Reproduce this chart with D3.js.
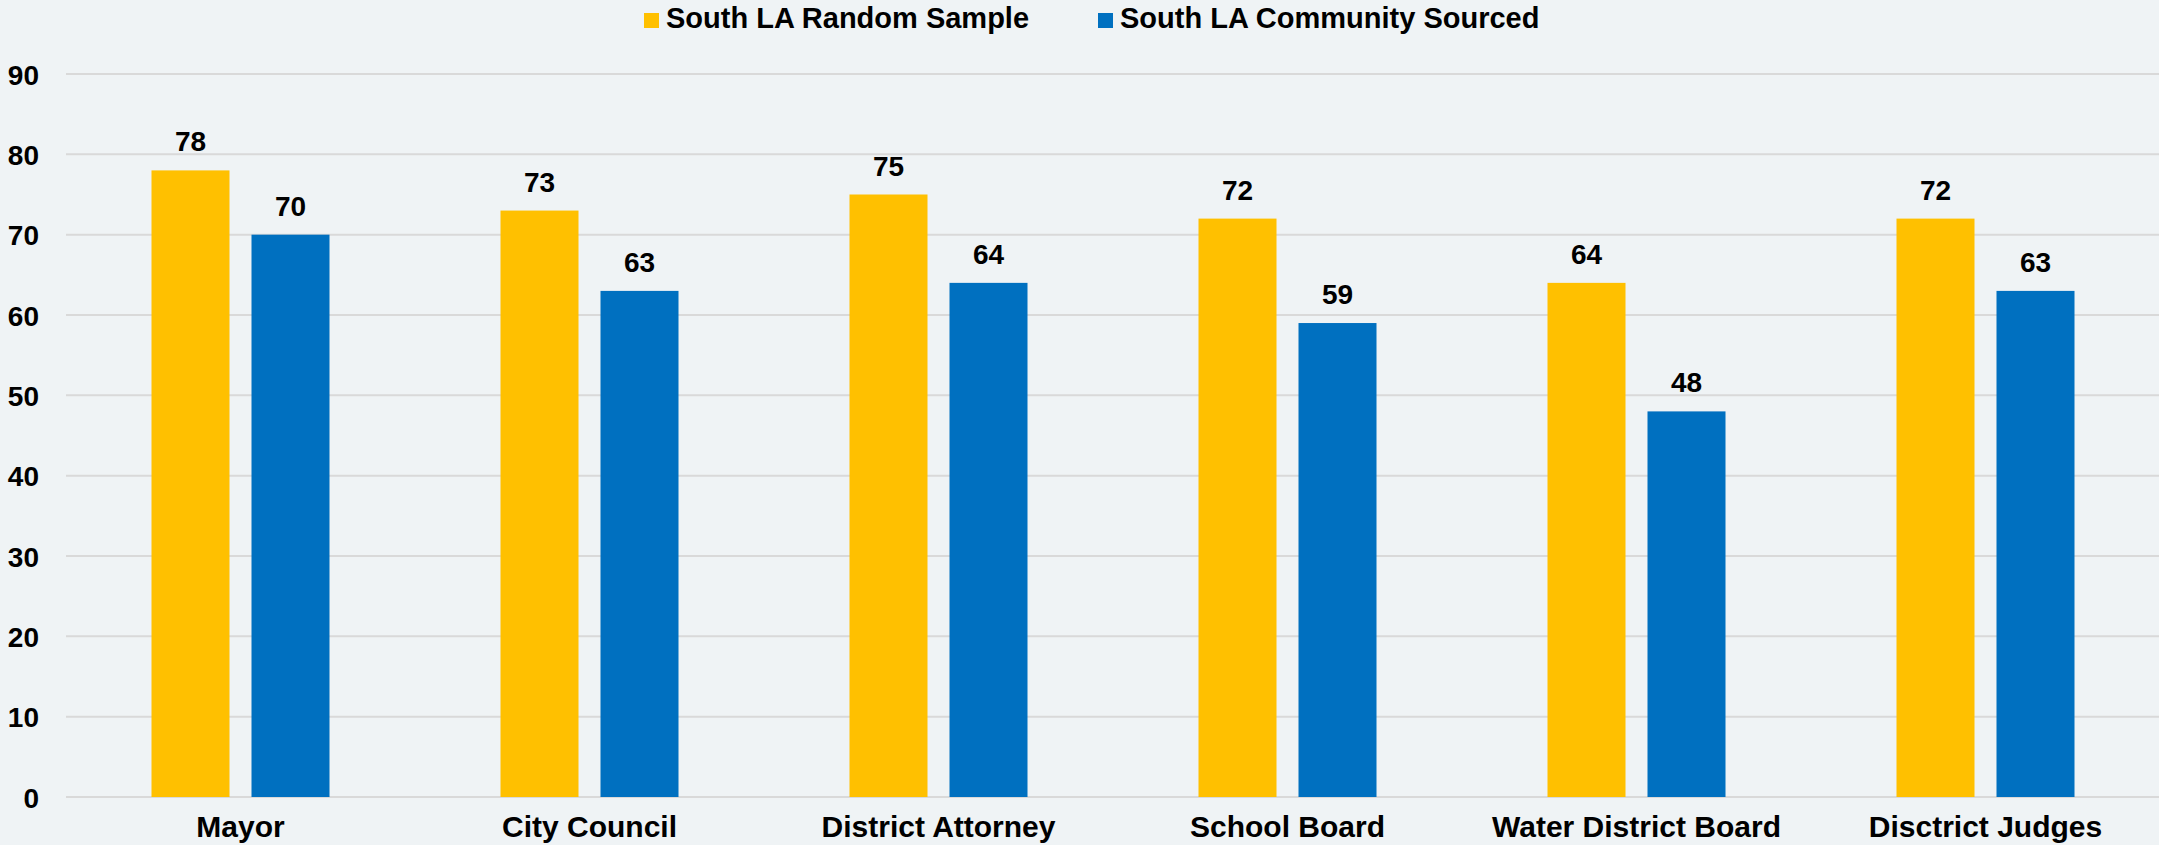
<!DOCTYPE html>
<html>
<head>
<meta charset="utf-8">
<script src="https://cdn.jsdelivr.net/npm/d3@7"></script>
<style>
  html, body { margin: 0; padding: 0; background: #eff3f5; }
  svg { display: block; }
  text { font-family: "Liberation Sans", Arial, sans-serif; font-weight: bold; fill: #000; }
</style>
</head>
<body>
<svg width="2159" height="845"></svg>
<script>
// offices asked about
const categories = ["Mayor", "City Council", "District Attorney", "School Board", "Water District Board", "Disctrict Judges"];
const seriesNames = ["South LA Random Sample", "South LA Community Sourced"];
const randomSample = [78, 73, 75, 72, 64, 72];
const communitySourced = [70, 63, 64, 59, 48, 63];
const yTicks = [0, 10, 20, 30, 40, 50, 60, 70, 80, 90];
const colors = ["#ffc000", "#0070c0"];

const svg = d3.select("svg");
const width = +svg.attr("width");

// plot edges (top is taken by window.top, so prefixed names)
const plotLeft = 66, plotRight = 2160, plotTop = 74, plotBottom = 797;

// build rows for the grouped bars
const rows = categories.map((c, i) => ({ cat: c, values: [randomSample[i], communitySourced[i]] }));

const y = d3.scaleLinear().domain([0, 90]).range([plotBottom, plotTop]);

const x0 = d3.scaleBand().domain(categories).range([plotLeft, plotRight]).padding(0);
const half = 89;
const x1 = d3.scaleBand()
  .domain(seriesNames)
  .range([x0.bandwidth() / 2 - half, x0.bandwidth() / 2 + half])
  .paddingInner(0.22);

// gridlines
svg.append("g")
  .selectAll("line")
  .data(yTicks)
  .enter().append("line")
  .attr("x1", plotLeft)
  .attr("x2", width)
  .attr("y1", d => y(d))
  .attr("y2", d => y(d))
  .attr("stroke", "#d9d9d9")
  .attr("stroke-width", 2);

// y axis labels
const yAxis = svg.append("g")
  .attr("transform", "translate(39,0)")
  .call(d3.axisLeft(y).tickValues(yTicks).tickSize(0).tickPadding(0));
yAxis.select(".domain").remove();
yAxis.selectAll("text")
  .style("font-size", "28px")
  .style("font-family", "'Liberation Sans', Arial, sans-serif")
  .style("font-weight", "bold")
  .attr("fill", "#000")
  .attr("dy", "0.36em");

// bars
const groups = svg.append("g")
  .selectAll("g")
  .data(rows)
  .enter().append("g")
  .attr("transform", d => `translate(${x0(d.cat)},0)`);

groups.selectAll("rect")
  .data(d => d.values.map((v, j) => ({ series: seriesNames[j], value: v, j: j })))
  .enter().append("rect")
  .attr("x", d => x1(d.series))
  .attr("width", x1.bandwidth())
  .attr("y", d => y(d.value))
  .attr("height", d => y(0) - y(d.value))
  .attr("fill", d => colors[d.j]);

// value labels on top of each bar
groups.selectAll("text.val")
  .data(d => d.values.map((v, j) => ({ series: seriesNames[j], value: v })))
  .enter().append("text")
  .attr("class", "val")
  .attr("x", d => x1(d.series) + x1.bandwidth() / 2)
  .attr("y", d => y(d.value) - 19)
  .attr("text-anchor", "middle")
  .style("font-size", "28px")
  .text(d => d.value);

// category labels
const xAxis = svg.append("g")
  .attr("transform", `translate(0,${plotBottom})`)
  .call(d3.axisBottom(x0).tickSize(0).tickPadding(0));
xAxis.select(".domain").remove();
xAxis.selectAll("text")
  .style("font-size", "30px")
  .style("font-family", "'Liberation Sans', Arial, sans-serif")
  .style("font-weight", "bold")
  .attr("fill", "#000")
  .attr("dy", null)
  .attr("y", 40);

// legend
const legendX = [644, 1098];
const legend = svg.append("g")
  .selectAll("g")
  .data(seriesNames)
  .enter().append("g")
  .attr("transform", (d, i) => `translate(${legendX[i]},0)`);

legend.append("rect")
  .attr("x", 0)
  .attr("y", 13)
  .attr("width", 15)
  .attr("height", 15)
  .attr("fill", (d, i) => colors[i]);

legend.append("text")
  .attr("x", 22)
  .attr("y", 28)
  .style("font-size", "29px")
  .text(d => d);
</script>
</body>
</html>
